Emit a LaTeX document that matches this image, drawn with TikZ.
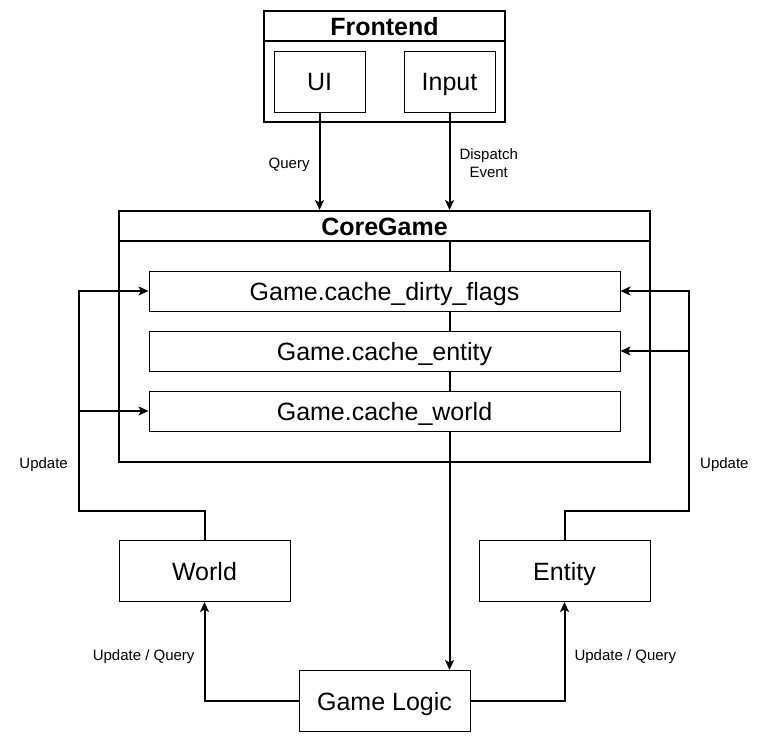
\documentclass[tikz,border=0pt]{standalone}
\usepackage{fontspec}
\setmainfont{Liberation Sans}
\usepackage{tikz}
\usetikzlibrary{positioning,arrows.meta}
\newcommand{\bigtext}[0]{\fontsize{25}{30}\selectfont}
\newcommand{\smalltext}[0]{\fontsize{15}{18}\selectfont}
\newcommand{\leftbus}[0]{79}
\newcommand{\rightbus}[0]{689}
\newcommand{\busy}[0]{511}

\begin{document}
\begin{tikzpicture}[x=1pt, y=-1pt,
  box/.style={draw, line width=1pt, fill=white, inner sep=0pt, font=\bigtext, text height=18pt, text depth=0pt},
  frame/.style={draw, line width=2pt, inner sep=0pt},
  head/.style={frame, fill=white, font=\bigtext\bfseries, text height=18pt, text depth=0pt},
  arr/.style={line width=2pt, -{Stealth[length=10pt, width=9pt, inset=2.5pt]}},
  lbl/.style={font=\smalltext, inner sep=0pt, align=center}]
\useasboundingbox (0,0) rectangle (770,742);

% frontend
\node[frame, minimum width=241, minimum height=111] (frontend) at (384.5,66.5) {};
\node[head, minimum width=241, minimum height=30] (fronthead) at (384.5,26) {Frontend};
\node[box, minimum width=91, minimum height=61] (ui) at (319.5,81.5) {UI};
\node[box, minimum width=91, minimum height=61] (input) at (449.5,81.5) {Input};

% core game
\node[frame, minimum width=531, minimum height=251] (coregame) at (384.5,336.5) {};
\node[head, minimum width=531, minimum height=30] (corehead) at (384.5,226) {CoreGame};

% outside boxes
\node[box, minimum width=171, minimum height=61] (world) at (204.5,571) {World};
\node[box, minimum width=171, minimum height=61] (entity) at (564.5,571) {Entity};
\node[box, minimum width=171, minimum height=61] (gamelogic) at (384.5,701) {Game Logic};

\draw[arr] (corehead.south -| input.south) -- (gamelogic.north -| input.south);

\node[box, minimum width=471, minimum height=40] (dirtyflags) at (384.5,291) {Game.cache\_dirty\_flags};
\node[box, minimum width=471, minimum height=40] (cacheentity) at (384.5,351) {Game.cache\_entity};
\node[box, minimum width=471, minimum height=40] (cacheworld) at (384.5,411) {Game.cache\_world};

% frontend to core
\draw[arr] (ui.south) -- node[lbl, pos=0.54, left=9pt] (querylbl) {Query} (ui.south |- corehead.north);
\draw[arr] (input.south) -- node[lbl, pos=0.52, right=9pt] (dispatchlbl) {Dispatch\\Event} (input.south |- corehead.north);

% updates into the caches
\draw[arr] (world.north) |- (\leftbus,\busy) |- (dirtyflags.west);
\draw[arr] (world.north) |- (\leftbus,\busy) |- (cacheworld.west);
\draw[arr] (entity.north) |- (\rightbus,\busy) |- (dirtyflags.east);
\draw[arr] (entity.north) |- (\rightbus,\busy) |- (cacheentity.east);
\node[lbl, left=11pt] (leftupdate) at (\leftbus,465) {Update};
\node[lbl, right=11pt] (rightupdate) at (\rightbus,465) {Update};

% game logic
\draw[arr] (gamelogic.west) -| node[lbl, pos=0.725, left=9pt] (worldlbl) {Update / Query} (world.south);
\draw[arr] (gamelogic.east) -| node[lbl, pos=0.725, right=9pt] (entitylbl) {Update / Query} (entity.south);
\end{tikzpicture}
\end{document}
